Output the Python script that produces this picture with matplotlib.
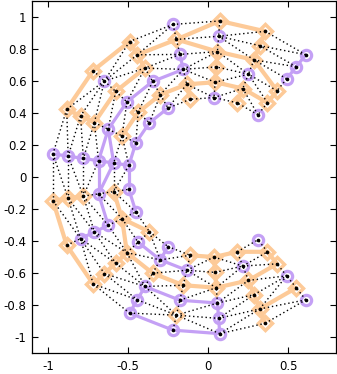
import numpy as np
import matplotlib
matplotlib.use("Agg")
import matplotlib.pyplot as plt

# ---- data ----
# node positions: angle of each column (deg, counter-clockwise) and radius of each ring (outer -> inner)
angles_deg = [51.4, 68.6, 85.7, 102.9, 120.0, 137.1, 154.3, 171.4,
              188.6, 205.7, 222.9, 240.0, 257.1, 274.3, 291.4, 308.6]
ring_radii = [0.98, 0.884, 0.788, 0.692, 0.596, 0.50]
# group of each node, one string per column, ring 1 (outer) .. ring 6 (inner); P = purple, O = orange
node_groups = ["PPPOOP", "OOOPOO", "OPOOOP", "POPPOO", "OOOPOP", "OPOPOP",
               "OOOPOP", "PPPPPP", "OOOPOP", "OPPPOP", "OOOOPO", "PPPOPP",
               "POPOPO", "PPPOOO", "OOOOPO", "POPOOP"]
# diagonal of each mesh cell between column k and k+1 (rings i, i+1):
# 'A' joins (i,k)-(i+1,k+1), 'B' joins (i+1,k)-(i,k+1)
cell_diagonals = ["AABBB", "ABBAA", "ABABB", "ABBAA", "ABAAA", "BAAAA",
                  "AAAAA", "AABBB", "AAAAA", "BAABA", "AABAB", "ABAAA",
                  "BAABA", "AAAAB", "BABBB"]
x_ticks = [-1, -0.5, 0, 0.5]
x_tick_labels = ["-1", "-0.5", "0", "0.5"]
y_ticks = [-1, -0.8, -0.6, -0.4, -0.2, 0, 0.2, 0.4, 0.6, 0.8, 1]
y_tick_labels = ["-1", "-0.8", "-0.6", "-0.4", "-0.2", "0", "0.2", "0.4", "0.6", "0.8", "1"]

PURPLE = "#c4a0f5"
ORANGE = "#fdca98"

nk = len(angles_deg)
nr = len(ring_radii)
th = np.deg2rad(np.array(angles_deg))
rr = np.array(ring_radii)
X = rr[None, :] * np.cos(th)[:, None]   # shape (k, ring)
Y = rr[None, :] * np.sin(th)[:, None]

edges = []
for k in range(nk):
    for i in range(nr):
        if i + 1 < nr:
            edges.append(((k, i), (k, i + 1)))          # radial
        if k + 1 < nk:
            edges.append(((k, i), (k + 1, i)))          # along the arc
        if k + 1 < nk and i + 1 < nr:
            if cell_diagonals[k][i] == "A":
                edges.append(((k, i), (k + 1, i + 1)))
            else:
                edges.append(((k, i + 1), (k + 1, i)))

fig = plt.figure(figsize=(3.37, 3.74), dpi=100)
ax = fig.add_axes([32 / 337, 20.7 / 374, 304 / 337, 352 / 374])

for (a, b) in edges:
    ga = node_groups[a[0]][a[1]]
    gb = node_groups[b[0]][b[1]]
    if ga == gb:
        col = PURPLE if ga == "P" else ORANGE
        lw = 2.3 if ga == "P" else 3.0
        ax.plot([X[a], X[b]], [Y[a], Y[b]], color=col, lw=lw,
                solid_capstyle="round", zorder=2)
    else:
        ax.plot([X[a], X[b]], [Y[a], Y[b]], color="black", lw=1.0,
                linestyle=(0, (1, 2.0)), zorder=4)

for k in range(nk):
    for i in range(nr):
        if node_groups[k][i] == "P":
            ax.plot(X[k, i], Y[k, i], "o", ms=7.4, mfc="none", mec=PURPLE,
                    mew=2.3, zorder=3)
        else:
            ax.plot(X[k, i], Y[k, i], "D", ms=7.0, mfc="none", mec=ORANGE,
                    mew=2.5, zorder=3)

ax.plot(X.ravel(), Y.ravel(), "o", ms=1.6, color="black", zorder=5)

ax.set_xlim(-1.1, 0.8)
ax.set_ylim(-1.1, 1.1)
ax.set_xticks(x_ticks)
ax.set_xticklabels(x_tick_labels)
ax.set_yticks(y_ticks)
ax.set_yticklabels(y_tick_labels)
ax.tick_params(direction="in", top=True, right=True, length=4, width=0.8,
               labelsize=8.5, pad=4, colors="black")
ax.tick_params(axis="x", pad=4.5)
for lab in ax.get_xticklabels() + ax.get_yticklabels():
    lab.set_family("DejaVu Sans")
for s in ax.spines.values():
    s.set_linewidth(0.9)

fig.savefig("out.png", dpi=100)
